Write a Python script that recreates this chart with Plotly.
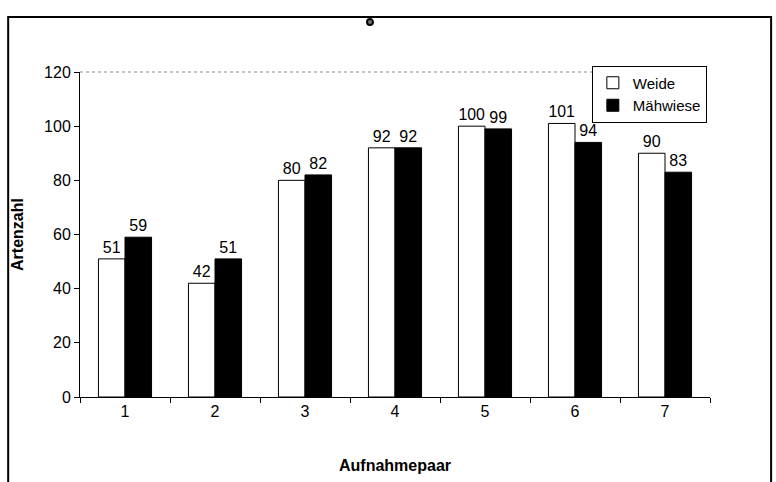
import plotly.graph_objects as go

categories = ["1", "2", "3", "4", "5", "6", "7"]
weide = [51, 42, 80, 92, 100, 101, 90]
maehwiese = [59, 51, 82, 92, 99, 94, 83]
y_ticks = [0, 20, 40, 60, 80, 100, 120]

FAMILY = "Liberation Sans, Arial, sans-serif"
font = dict(family=FAMILY, size=16, color="black")

fig = go.Figure()
fig.add_trace(go.Bar(
    name="Weide", x=categories, y=weide,
    marker=dict(color="white", line=dict(color="black", width=1)),
    text=[str(v) for v in weide], textposition="outside",
    textfont=font, cliponaxis=False,
))
fig.add_trace(go.Bar(
    name="Mähwiese", x=categories, y=maehwiese,
    marker=dict(color="black", line=dict(color="black", width=1)),
    text=[str(v) for v in maehwiese], textposition="outside",
    textfont=font, cliponaxis=False,
))

fig.update_layout(
    width=776, height=482,
    margin=dict(l=80, r=66, t=72, b=85),
    paper_bgcolor="white", plot_bgcolor="white",
    font=font,
    barmode="group", bargap=0.41, bargroupgap=0,
    showlegend=True,
    legend=dict(
        x=0.995, y=1.02, xanchor="right", yanchor="top",
        bgcolor="white", bordercolor="black", borderwidth=1,
        font=dict(family=FAMILY, size=15),
        itemwidth=30, tracegroupgap=0,
    ),
)

fig.update_xaxes(
    showline=True, linecolor="black", linewidth=1,
    ticks="outside", tickson="boundaries", ticklen=5, tickcolor="black",
    showgrid=False, zeroline=False,
    title=dict(text="<b>Aufnahmepaar</b>", standoff=40,
               font=dict(family=FAMILY, size=16)),
)
fig.update_yaxes(
    range=[0, 120], tickvals=y_ticks,
    showline=True, linecolor="black", linewidth=1,
    ticks="outside", ticklen=5, tickcolor="black",
    showgrid=False, zeroline=False,
    title=dict(text="<b>Artenzahl</b>", standoff=16,
               font=dict(family=FAMILY, size=16)),
)

# dotted upper edge of the plot area
fig.add_shape(type="line", xref="paper", yref="paper", x0=0, x1=1.0, y0=1, y1=1,
              line=dict(color="#888888", width=1, dash="dot"), layer="below")
# outer chart frame
fig.add_shape(type="rect", xref="paper", yref="paper",
              x0=-0.114, x1=1.097, y0=-0.3, y1=1.169,
              line=dict(color="black", width=2))
# small ring at the top centre
fig.add_shape(type="circle", xref="paper", yref="paper",
              x0=0.4556, x1=0.465, y0=1.145, y1=1.163,
              line=dict(color="black", width=2), fillcolor="#777777")

fig.write_html("out.html")
